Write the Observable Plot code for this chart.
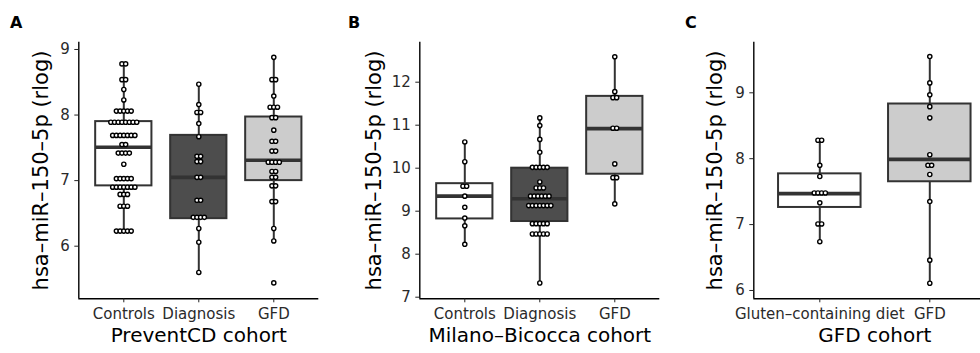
<!DOCTYPE html>
<html><head><meta charset="utf-8">
<script src="https://cdn.jsdelivr.net/npm/d3@7"></script>
<script src="https://cdn.jsdelivr.net/npm/@observablehq/plot@0.6"></script>
<style>
body{margin:0;background:#fff;}
#root{position:relative;width:980px;height:353px;overflow:hidden;background:#fff;}
.panel{position:absolute;top:0;}
#tags{position:absolute;left:0;top:0;}
</style></head><body><div id="root"></div>
<script>
// ---------- data ----------
const yTitle = "hsa\u2013miR\u2013150\u20135p (rlog)";

const catsA = ["Controls", "Diagnosis", "GFD"];
const valsA_controls = [8.78,8.78,8.54,8.54,8.39,8.23,8.06,8.06,8.06,8.06,8.06,7.89,7.89,7.89,7.89,7.89,7.89,7.89,7.89,7.69,7.69,7.69,7.69,7.69,7.69,7.69,7.55,7.55,7.42,7.42,7.42,7.42,7.25,7.03,7.03,7.03,7.03,7.03,6.90,6.90,6.90,6.90,6.90,6.90,6.90,6.79,6.79,6.79,6.61,6.61,6.61,6.23,6.23,6.23,6.23,6.23];
const valsA_diagnosis = [8.47,8.16,8.04,8.04,7.87,7.67,7.37,7.37,7.29,7.29,7.05,7.05,6.70,6.70,6.44,6.44,6.44,6.44,6.27,6.06,5.60];
const valsA_gfd = [8.88,8.54,8.54,8.29,8.12,8.12,8.12,7.96,7.96,7.77,7.60,7.60,7.45,7.45,7.28,7.28,7.28,7.28,7.14,7.14,7.05,7.05,6.92,6.92,6.68,6.68,6.27,6.08,5.44];
const boxA_lo  = [6.23, 5.60, 6.08];
const boxA_q1  = [6.92, 6.42, 7.00];
const boxA_med = [7.51, 7.05, 7.31];
const boxA_q3  = [7.90, 7.69, 7.97];
const boxA_hi  = [8.78, 8.47, 8.88];
const ticksA = [6, 7, 8, 9];

const catsB = ["Controls", "Diagnosis", "GFD"];
const valsB_controls = [10.61,10.15,9.58,9.58,9.35,9.09,8.84,8.66,8.23];
const valsB_diagnosis = [11.17,10.99,10.67,10.37,10.02,10.02,10.02,10.02,10.02,9.68,9.54,9.54,9.54,9.35,9.35,9.35,9.35,9.35,9.35,9.13,9.13,9.13,9.13,9.13,9.13,9.13,8.71,8.71,8.71,8.71,8.71,8.47,8.47,8.47,8.47,8.47,7.33];
const valsB_gfd = [12.59,11.78,11.64,11.64,10.93,10.93,10.10,9.78,9.78,9.17];
const boxB_lo  = [8.23, 7.33, 9.17];
const boxB_q1  = [8.82, 8.76, 9.86];
const boxB_med = [9.35, 9.29, 10.92];
const boxB_q3  = [9.64, 10.00, 11.67];
const boxB_hi  = [10.61, 11.17, 12.59];
const ticksB = [7, 8, 9, 10, 11, 12];

const catsC = ["Gluten\u2013containing diet", "GFD"];
const valsC_gluten = [8.28,8.28,7.90,7.73,7.48,7.48,7.48,7.48,7.33,7.01,7.01,6.74];
const valsC_gfd = [9.55,9.15,8.97,8.79,8.62,8.06,7.90,7.90,7.76,7.35,6.46,6.11];
const boxC_lo  = [6.74, 6.11];
const boxC_q1  = [7.26, 7.65];
const boxC_med = [7.47, 7.99];
const boxC_q3  = [7.77, 8.83];
const boxC_hi  = [8.28, 9.55];
const ticksC = [6, 7, 8, 9];

const fills3 = ["#ffffff", "#4d4d4d", "#cccccc"];
const fills2 = ["#ffffff", "#cccccc"];

// ---------- drawing ----------
const FONT = "DejaVu Sans, sans-serif";
const SPACING = 3.7;   // px between stacked dots
const TOP = 41.7, BOTTOM = 298.3, H = 353;

function panel(o) {
  const n = o.cats.length;
  const xDomain = [0.4, n + 0.6];
  const pxPerUnit = o.innerW / (n + 0.2);
  const dots = [];
  o.groups.forEach((vals, gi) => {
    const counts = d3.rollup(vals, v => v.length, v => v);
    const seen = new Map();
    for (const v of vals) {
      const c = counts.get(v);
      const j = seen.get(v) ?? 0;
      seen.set(v, j + 1);
      dots.push({x: gi + 1 + (j - (c - 1) / 2) * SPACING / pxPerUnit, y: v});
    }
  });
  const boxes = o.cats.map((c, i) => ({
    i: i + 1, lo: o.box.lo[i], q1: o.box.q1[i], med: o.box.med[i],
    q3: o.box.q3[i], hi: o.box.hi[i], fill: o.fills[i]
  }));
  const hw = 0.375;
  const marginLeft = o.axisX - o.left;
  const marginRight = 2;
  const width = marginLeft + o.innerW + marginRight;
  const svg = Plot.plot({
    width, height: H,
    marginTop: TOP, marginBottom: H - BOTTOM, marginLeft, marginRight,
    x: {domain: xDomain},
    y: {domain: o.yDomain},
    color: {type: "identity"},
    style: {fontFamily: FONT, fontSize: "15px", background: "transparent", overflow: "visible", color: "#222"},
    marks: [
      Plot.ruleX(boxes, {x: "i", y1: "lo", y2: "hi", stroke: "#333", strokeWidth: 2}),
      Plot.rect(boxes, {x1: d => d.i - hw, x2: d => d.i + hw, y1: "q1", y2: "q3", fill: "fill", stroke: "#333", strokeWidth: 2}),
      Plot.ruleY(boxes, {y: "med", x1: d => d.i - hw, x2: d => d.i + hw, stroke: "#333", strokeWidth: 3.6}),
      Plot.dot(dots, {x: "x", y: "y", r: 2.1, fill: "white", stroke: "black", strokeWidth: 1.4}),
      Plot.ruleX([xDomain[0]], {stroke: "black", strokeWidth: 1.4}),
      Plot.ruleY([o.yDomain[0]], {stroke: "black", strokeWidth: 1.4}),
      Plot.axisY({ticks: o.yTicks, tickFormat: d => String(d), tickSize: 4, tickPadding: 5, fontSize: 15, label: null, stroke: "#222", fill: "#2a2a2a"}),
      Plot.axisX({ticks: d3.range(1, n + 1), tickFormat: i => o.cats[i - 1], tickSize: 4, tickPadding: 6, fontSize: 15, label: null, stroke: "#222", fill: "#2a2a2a"}),
      Plot.text([o.xTitle], {frameAnchor: "bottom", lineAnchor: "middle", textAnchor: "middle", dy: 37, fontSize: 20, text: d => d, fill: "black"}),
      Plot.text([yTitle], {frameAnchor: "left", rotate: -90, textAnchor: "middle", lineAnchor: "middle", dx: o.yTitleDx, fontSize: 21, text: d => d, fill: "black"})
    ]
  });
  svg.classList.add("panel");
  svg.style.left = o.left + "px";
  return svg;
}

const root = document.getElementById("root");
root.appendChild(panel({
  cats: catsA, groups: [valsA_controls, valsA_diagnosis, valsA_gfd],
  box: {lo: boxA_lo, q1: boxA_q1, med: boxA_med, q3: boxA_q3, hi: boxA_hi},
  fills: fills3, yDomain: [5.198, 9.111], yTicks: ticksA,
  left: 0, axisX: 78.3, innerW: 240, xTitle: "PreventCD cohort", yTitleDx: -38
}));
root.appendChild(panel({
  cats: catsB, groups: [valsB_controls, valsB_diagnosis, valsB_gfd],
  box: {lo: boxB_lo, q1: boxB_q1, med: boxB_med, q3: boxB_q3, hi: boxB_hi},
  fills: fills3, yDomain: [6.963, 12.93], yTicks: ticksB,
  left: 330, axisX: 419.3, innerW: 240, xTitle: "Milano\u2013Bicocca cohort", yTitleDx: -46
}));
root.appendChild(panel({
  cats: catsC, groups: [valsC_gluten, valsC_gfd],
  box: {lo: boxC_lo, q1: boxC_q1, med: boxC_med, q3: boxC_q3, hi: boxC_hi},
  fills: fills2, yDomain: [5.874, 9.768], yTicks: ticksC,
  left: 660, axisX: 753.3, innerW: 242, xTitle: "GFD cohort", yTitleDx: -39
}));

// panel tags
const tagNS = "http://www.w3.org/2000/svg";
const tagSvg = document.createElementNS(tagNS, "svg");
tagSvg.setAttribute("id", "tags");
tagSvg.setAttribute("width", 980);
tagSvg.setAttribute("height", 40);
[["A", 10], ["B", 348], ["C", 685]].forEach(([t, x]) => {
  const el = document.createElementNS(tagNS, "text");
  el.setAttribute("x", x);
  el.setAttribute("y", 28.4);
  el.setAttribute("font-family", FONT);
  el.setAttribute("font-weight", "bold");
  el.setAttribute("font-size", 16);
  el.textContent = t;
  tagSvg.appendChild(el);
});
root.appendChild(tagSvg);
</script>
</body></html>
